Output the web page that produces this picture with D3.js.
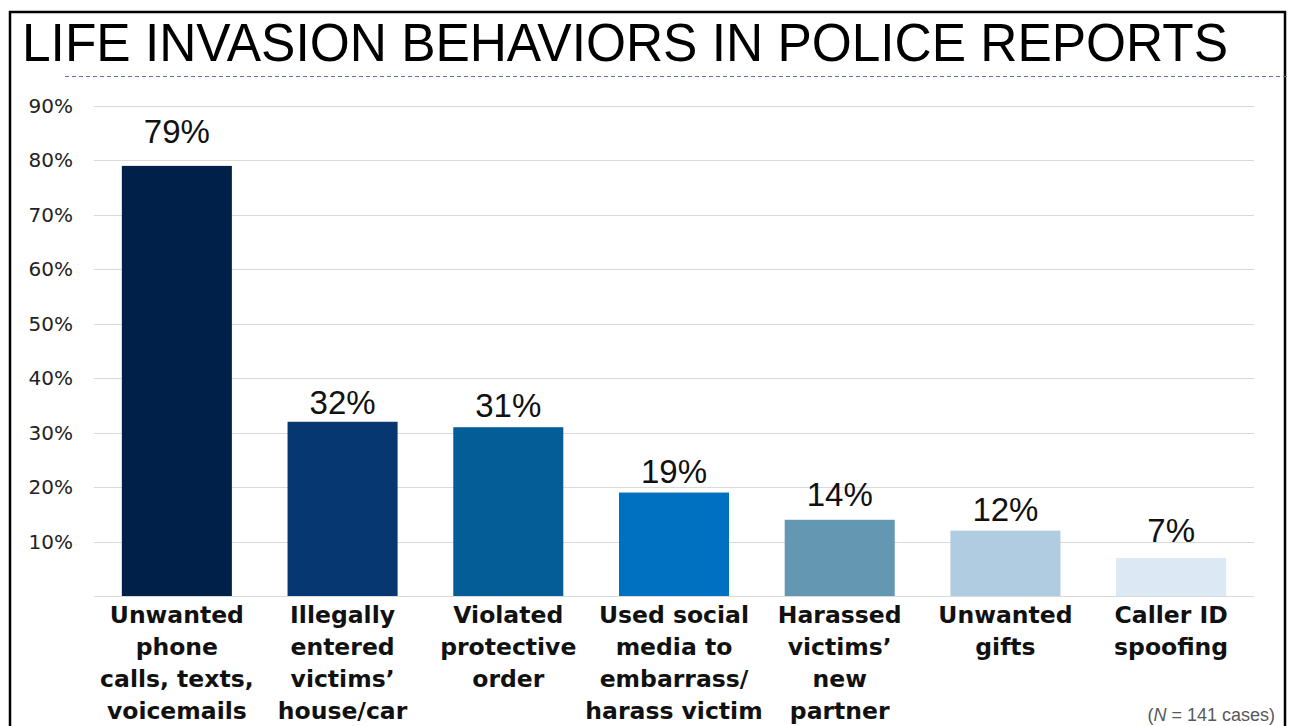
<!DOCTYPE html>
<meta charset="utf-8">
<head>
  <title>Life invasion behaviors</title>
  <script src="https://d3js.org/d3.v7.min.js"></script>
  <style>
    body { margin: 0; padding: 0; background: #fff; }
    .grid line { stroke: #d9d9d9; stroke-width: 1px; }
    .ytick { font-family: "DejaVu Sans", sans-serif; font-size: 20px; fill: #222; }
    .val { font-family: "Liberation Sans", Arial, sans-serif; font-size: 33px; fill: #111; }
    .cat { font-family: "DejaVu Sans", sans-serif; font-weight: bold; font-size: 23.5px; fill: #111; }
  </style>
</head>
<body>
  <svg width="1289" height="726"></svg>
  <script>
    const width = 1289;
    const height = 726;

    const categories = [
      ["Unwanted", "phone", "calls, texts,", "voicemails"],
      ["Illegally", "entered", "victims\u2019", "house/car"],
      ["Violated", "protective", "order"],
      ["Used social", "media to", "embarrass/", "harass victim"],
      ["Harassed", "victims\u2019", "new", "partner"],
      ["Unwanted", "gifts"],
      ["Caller ID", "spoofing"]
    ];
    const values = [79, 32, 31, 19, 14, 12, 7];
    const colors = ["#00204a", "#063770", "#045d96", "#0070c0", "#6497b1", "#b0cce0", "#dce8f4"];
    const yTicks = [10, 20, 30, 40, 50, 60, 70, 80, 90];

    // labels in the original were nudged by hand, so the gap above each bar varies
    const labelLift = [23, 8, 10, 10, 14, 10, 16];

    const svg = d3.select("svg");

    // frame + title
    svg.append("path")
      .attr("d", "M10,730 L10,12 L1285,12 L1285,730")
      .attr("fill", "none")
      .attr("stroke", "#000")
      .attr("stroke-width", 2.5);

    svg.append("text")
      .attr("x", 22).attr("y", 61)
      .attr("font-family", "Liberation Sans, Arial, sans-serif")
      .attr("font-size", 53)
      .attr("textLength", 1206)
      .attr("lengthAdjust", "spacingAndGlyphs")
      .text("LIFE INVASION BEHAVIORS IN POLICE REPORTS");

    svg.append("line")
      .attr("x1", 65).attr("x2", 1289)
      .attr("y1", 76.5).attr("y2", 76.5)
      .attr("stroke", "#5a78a6")
      .attr("stroke-width", 1)
      .attr("stroke-dasharray", "4,3");

    const x = d3.scaleBand()
      .domain(d3.range(values.length))
      .range([94, 1254])
      .paddingInner(0.336)
      .paddingOuter(0.168);

    const y = d3.scaleLinear()
      .domain([0, 90])
      .range([596, 106]);

    // gridlines
    svg.append("g").attr("class", "grid")
      .selectAll("line")
      .data([0].concat(yTicks))
      .join("line")
        .attr("x1", 94).attr("x2", 1254)
        .attr("y1", d => Math.round(y(d)) + 0.5)
        .attr("y2", d => Math.round(y(d)) + 0.5);

    svg.append("g")
      .selectAll("text")
      .data(yTicks)
      .join("text")
        .attr("class", "ytick")
        .attr("x", 73)
        .attr("y", d => y(d) + 7)
        .attr("text-anchor", "end")
        .text(d => d + "%");

    svg.append("g")
      .selectAll("rect")
      .data(values)
      .join("rect")
        .attr("x", (d, i) => x(i))
        .attr("width", x.bandwidth())
        .attr("y", d => y(d))
        .attr("height", d => y(0) - y(d))
        .attr("fill", (d, i) => colors[i]);

    svg.append("g")
      .selectAll("text")
      .data(values)
      .join("text")
        .attr("class", "val")
        .attr("x", (d, i) => x(i) + x.bandwidth() / 2)
        .attr("y", (d, i) => y(d) - labelLift[i])
        .attr("text-anchor", "middle")
        .text(d => d + "%");

    const cat = svg.append("g")
      .selectAll("text")
      .data(categories)
      .join("text")
        .attr("class", "cat")
        .attr("text-anchor", "middle");

    cat.selectAll("tspan")
      .data((d, i) => d.map(line => ({ line, i })))
      .join("tspan")
        .attr("x", d => x(d.i) + x.bandwidth() / 2)
        .attr("y", (d, j) => 623 + j * 32)
        .text(d => d.line);

    const note = svg.append("text")
      .attr("x", 1275).attr("y", 721)
      .attr("text-anchor", "end")
      .attr("font-family", "Liberation Sans, Arial, sans-serif")
      .attr("font-size", 18)
      .attr("fill", "#595959");
    note.append("tspan").text("(");
    note.append("tspan").attr("font-style", "italic").text("N");
    note.append("tspan").text(" = 141 cases)");
  </script>
</body>
